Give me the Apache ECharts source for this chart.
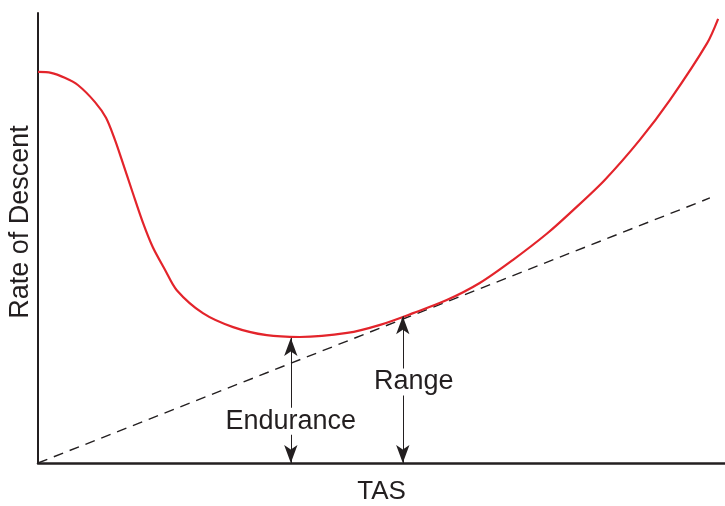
<!DOCTYPE html>
<html>
<head>
<meta charset="utf-8">
<script src="https://cdn.jsdelivr.net/npm/echarts@6/dist/echarts.min.js"></script>
<style>html,body{margin:0;padding:0;background:#fff}#c{width:725px;height:506px}</style>
</head>
<body>
<div id="c"></div>
<script>
// Rate of descent curve (TAS 0-100, RoD 0-100 relative units)
var curveTAS = [0, 1.9, 3.9, 5.8, 8.3, 9.9, 11.2, 12.1, 13.8, 15.3, 16.7, 18.5, 20.2, 24.0, 28.4, 33.3, 38.1, 45.0, 49.8, 54.6, 59.5, 64.3, 69.1, 74.1, 77.9, 82.5, 87.6, 92.0, 97.4, 99.0];
var curveROD = [86.9, 86.7, 85.6, 84.0, 80.2, 76.7, 71.8, 67.8, 60.0, 53.3, 48.0, 42.9, 38.4, 33.3, 30.2, 28.4, 28.0, 28.9, 30.7, 33.3, 36.2, 40.0, 45.1, 51.0, 56.2, 62.9, 71.8, 80.7, 93.3, 98.7];
// Tangent from origin
var tangentTAS = [0, 97.8];
var tangentROD = [0, 58.9];
// Marked speeds
var markNames = ['Endurance', 'Range'];
var markTAS = [36.8, 53.1];
var markROD = [27.8, 32.6];
var markLabelROD = [9.3, 18.0];
var markLabelTAS = [36.8, 54.7];
var xTitle = 'TAS';
var yTitle = 'Rate of Descent';

var font = 'Liberation Sans, Arial, sans-serif';
var chart = echarts.init(document.getElementById('c'));

function zip(a, b) { return a.map(function (v, i) { return [v, b[i]]; }); }

var arrowLines = markTAS.map(function (x, i) {
  return [{ coord: [x, 0] }, { coord: [x, markROD[i]] }];
});

chart.setOption({
  animation: false,
  grid: { left: 38, right: 0, top: 13, bottom: 43, containLabel: false, outerBoundsMode: 'none' },
  xAxis: {
    type: 'value', min: 0, max: 100,
    name: xTitle, nameLocation: 'middle', nameGap: 16,
    nameTextStyle: { fontFamily: font, fontSize: 26, color: '#231f20' },
    axisLine: { show: true, onZero: false, lineStyle: { color: '#231f20', width: 2.5 } },
    axisTick: { show: false }, axisLabel: { show: false }, splitLine: { show: false }
  },
  yAxis: {
    type: 'value', min: 0, max: 100,
    axisLine: { show: true, onZero: false, lineStyle: { color: '#231f20', width: 2 } },
    axisTick: { show: false }, axisLabel: { show: false }, splitLine: { show: false }
  },
  graphic: [{
    type: 'text', x: 21, y: 222, rotation: Math.PI / 2,
    style: { text: yTitle, font: '27px ' + font, fill: '#231f20', textAlign: 'center', textVerticalAlign: 'middle' }
  }],
  series: [
    {
      type: 'line', data: zip(tangentTAS, tangentROD), symbol: 'none', z: 2,
      lineStyle: { color: '#231f20', width: 1.4, type: [10, 7] }
    },
    {
      type: 'line', data: zip(curveTAS, curveROD), symbol: 'none', smooth: 0.3, z: 3,
      lineStyle: { color: '#e3242b', width: 2.2 }
    },
    {
      type: 'scatter', data: [], z: 4,
      markLine: {
        silent: true, symbol: ['arrow', 'arrow'], symbolSize: [10, 18],
        label: { show: false },
        lineStyle: { color: '#231f20', width: 1, type: 'solid', opacity: 1 },
        itemStyle: { color: '#231f20', opacity: 1 },
        emphasis: { disabled: true },
        data: arrowLines
      }
    },
    {
      type: 'scatter', symbolSize: 0, z: 5,
      itemStyle: { opacity: 1, color: '#231f20' },
      data: markNames.map(function (n, i) { return { name: n, value: [markLabelTAS[i], markLabelROD[i]] }; }),
      label: {
        show: true, position: 'inside', formatter: '{b}',
        fontFamily: font, fontSize: 27, color: '#231f20', opacity: 1,
        backgroundColor: '#fff', padding: [0, 2]
      }
    }
  ]
});
</script>
</body>
</html>
